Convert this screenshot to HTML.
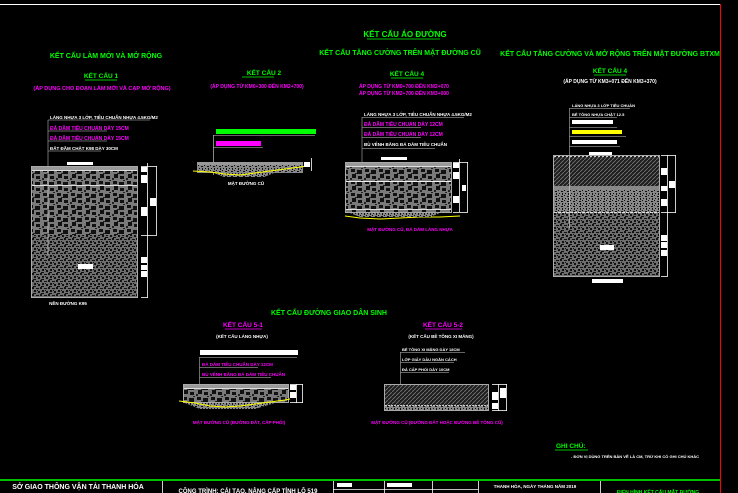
<!DOCTYPE html>
<html><head><meta charset="utf-8"><style>
html,body{margin:0;padding:0;background:#000;width:738px;height:493px;overflow:hidden}
svg{display:block}
text{font-family:"Liberation Sans","DejaVu Sans",sans-serif;font-weight:bold}
.g{fill:#00ff00}.m{fill:#ff00ff}.w{fill:#fff}
</style></head><body>
<svg width="738" height="493" viewBox="0 0 738 493" xmlns="http://www.w3.org/2000/svg">
<defs>
<pattern id="coarse" width="14" height="12" patternUnits="userSpaceOnUse">
<rect width="14" height="12" fill="#7a7a7a"/>
<path d="M1 1h4v3h-4zM7 2h5v4h-5zM2 6h4v4h-4zM8 8h4v3h-4z" fill="#111"/>
<path d="M5 5h2v1h-2zM11 0h2v1h-2zM0 10h2v2h-2z" fill="#222"/>
</pattern>
<pattern id="fine" width="8" height="7" patternUnits="userSpaceOnUse">
<rect width="8" height="7" fill="#6e6e6e"/>
<path d="M0 0h2v2h-2zM4 1h3v1h-3zM2 3h2v2h-2zM6 4h2v2h-2zM1 6h3v1h-3zM5 3h1v1h-1z" fill="#111"/>
</pattern>
<pattern id="speck" width="6" height="5" patternUnits="userSpaceOnUse">
<rect width="6" height="5" fill="#888"/>
<path d="M0 0h1v1h-1zM3 1h2v1h-2zM1 3h1v1h-1zM4 3h1v2h-1z" fill="#111"/>
</pattern>
<pattern id="hatch" width="4" height="4" patternUnits="userSpaceOnUse">
<rect width="4" height="4" fill="#1e1e1e"/>
<path d="M0 4L4 0" stroke="#777" stroke-width="0.8"/>
</pattern>
</defs>

<!-- frame -->
<line x1="0" y1="4.5" x2="720" y2="4.5" stroke="#fff" stroke-width="1"/>
<line x1="720.5" y1="4" x2="720.5" y2="493" stroke="#f00" stroke-width="1"/>

<!-- titles -->
<text x="405" y="37" class="g" font-size="8" text-anchor="middle">KẾT CẤU ÁO ĐƯỜNG</text>
<line x1="367" y1="39" x2="440" y2="39" stroke="#0f0" stroke-width="0.8"/>
<text x="106" y="58" class="g" font-size="7" text-anchor="middle">KẾT CẤU LÀM MỚI VÀ MỞ RỘNG</text>
<text x="400" y="55" class="g" font-size="7" text-anchor="middle">KẾT CẤU TĂNG CƯỜNG TRÊN MẶT ĐƯỜNG CŨ</text>
<text x="610" y="56" class="g" font-size="7" text-anchor="middle">KẾT CẤU TĂNG CƯỜNG VÀ MỞ RỘNG TRÊN MẶT ĐƯỜNG BTXM</text>

<text x="101" y="78" class="g" font-size="6.5" text-anchor="middle">KẾT CẤU 1</text>
<line x1="85" y1="80" x2="117" y2="80" stroke="#0f0" stroke-width="0.7"/>
<text x="102" y="90" class="m" font-size="5.5" text-anchor="middle">(ÁP DỤNG CHO ĐOẠN LÀM MỚI VÀ CẠP MỞ RỘNG)</text>

<text x="264" y="75" class="g" font-size="6.5" text-anchor="middle">KẾT CẤU 2</text>
<line x1="242" y1="77" x2="274" y2="77" stroke="#0f0" stroke-width="0.7"/>
<text x="257" y="88" class="m" font-size="5" text-anchor="middle">(ÁP DỤNG TỪ KM0+300 ĐẾN KM2+700)</text>

<text x="407" y="76" class="g" font-size="6.5" text-anchor="middle">KẾT CẤU 4</text>
<line x1="391" y1="78" x2="423" y2="78" stroke="#0f0" stroke-width="0.7"/>
<text x="404" y="88" class="m" font-size="5" text-anchor="middle">ÁP DỤNG TỪ KM0+700 ĐẾN KM2+070</text>
<text x="404" y="95" class="m" font-size="5" text-anchor="middle">ÁP DỤNG TỪ KM2+700 ĐẾN KM3+000</text>

<text x="610" y="73" class="g" font-size="6.5" text-anchor="middle">KẾT CẤU 4</text>
<line x1="594" y1="75" x2="626" y2="75" stroke="#0f0" stroke-width="0.7"/>
<text x="610" y="83" class="w" font-size="5" text-anchor="middle">(ÁP DỤNG TỪ KM3+071 ĐẾN KM3+370)</text>

<!-- STRUCTURE 1 -->
<g stroke="#888" stroke-width="0.8" fill="none">
<line x1="48" y1="120" x2="48" y2="255"/>
<line x1="48" y1="120" x2="150" y2="120"/>
<line x1="48" y1="131" x2="107" y2="131"/>
<line x1="48" y1="141" x2="107" y2="141"/>
<line x1="48" y1="151" x2="101" y2="151"/>
</g>
<text x="50" y="119" class="w" font-size="4.5">LÁNG NHỰA 3 LỚP, TIÊU CHUẨN NHỰA 4.5KG/M2</text>
<text x="50" y="130" class="m" font-size="5">ĐÁ DĂM TIÊU CHUẨN DÀY 15CM</text>
<text x="50" y="140" class="m" font-size="5">ĐÁ DĂM TIÊU CHUẨN DÀY 15CM</text>
<text x="50" y="150" class="w" font-size="4.5">ĐẤT ĐẦM CHẶT K98 DÀY 30CM</text>
<rect x="67" y="162" width="26" height="3" fill="#fff"/>
<rect x="31.5" y="166.5" width="106" height="131" fill="url(#fine)" stroke="#aaa"/>
<rect x="32" y="167" width="105" height="68" fill="url(#coarse)"/>
<rect x="32" y="167" width="105" height="3" fill="#999"/>
<line x1="32" y1="170.5" x2="137" y2="170.5" stroke="#ddd"/>
<line x1="32" y1="185.5" x2="137" y2="185.5" stroke="#ddd"/>
<line x1="48" y1="170" x2="48" y2="255" stroke="#bbb" stroke-width="0.8"/>
<rect x="78" y="264" width="15" height="5" fill="#fff"/>
<g stroke="#fff" stroke-width="0.8" fill="none">
<line x1="147.5" y1="163" x2="147.5" y2="298"/>
<line x1="141" y1="166.5" x2="157" y2="166.5"/>
<line x1="156.5" y1="166" x2="156.5" y2="235"/>
<line x1="141" y1="235.5" x2="157" y2="235.5"/>
<line x1="141" y1="297.5" x2="148" y2="297.5"/>
</g>
<rect x="141" y="167" width="6" height="5" fill="#fff"/>
<rect x="141" y="175" width="6" height="8" fill="#fff"/>
<rect x="150" y="198" width="6" height="8" fill="#fff"/>
<rect x="141" y="207" width="6" height="9" fill="#fff"/>
<rect x="141" y="257" width="6" height="6" fill="#fff"/>
<rect x="141" y="265" width="6" height="5" fill="#fff"/>
<rect x="141" y="271" width="6" height="6" fill="#fff"/>
<text x="68" y="305" class="w" font-size="4.5" text-anchor="middle">NỀN ĐƯỜNG K95</text>

<!-- STRUCTURE 2 -->
<rect x="216" y="129" width="100" height="5" fill="#00ff00"/>
<line x1="213" y1="135.5" x2="315" y2="135.5" stroke="#888" stroke-width="0.8"/>
<rect x="216" y="141" width="45" height="5" fill="#ff00ff"/>
<line x1="213" y1="147.5" x2="263" y2="147.5" stroke="#888" stroke-width="0.8"/>
<line x1="213.5" y1="135" x2="213.5" y2="175" stroke="#aaa" stroke-width="0.8"/>
<rect x="197" y="162" width="106" height="3" fill="#999"/>
<rect x="197" y="165" width="106" height="8" fill="url(#speck)"/>
<path d="M214 173h60l-10 4h-40z" fill="url(#speck)"/>
<path d="M193 171 L210 172 L225 174 L240 175 L255 173 L270 171 L285 169 L300 167 L308 166" stroke="#ff0" stroke-width="1" fill="none"/>
<rect x="304" y="162" width="6" height="5" fill="#fff"/>
<line x1="311.5" y1="158" x2="311.5" y2="171" stroke="#fff" stroke-width="0.8"/>
<text x="246" y="185" class="w" font-size="4.5" text-anchor="middle">MẶT ĐƯỜNG CŨ</text>

<!-- STRUCTURE 3 -->
<g stroke="#888" stroke-width="0.8" fill="none">
<line x1="362" y1="117" x2="362" y2="216"/>
<line x1="362" y1="117.5" x2="464" y2="117.5"/>
<line x1="362" y1="127.5" x2="421" y2="127.5"/>
<line x1="362" y1="137.5" x2="421" y2="137.5"/>
<line x1="362" y1="148.5" x2="435" y2="148.5"/>
</g>
<text x="364" y="116" class="w" font-size="4.5">LÁNG NHỰA 3 LỚP, TIÊU CHUẨN NHỰA 4.5KG/M2</text>
<text x="364" y="126" class="m" font-size="5">ĐÁ DĂM TIÊU CHUẨN DÀY 12CM</text>
<text x="364" y="136" class="m" font-size="5">ĐÁ DĂM TIÊU CHUẨN DÀY 12CM</text>
<text x="364" y="146" class="w" font-size="4.5">BÙ VÊNH BẰNG ĐÁ DĂM TIÊU CHUẨN</text>
<rect x="381" y="157" width="26" height="3" fill="#fff"/>
<rect x="345.5" y="162.5" width="106" height="50" fill="url(#coarse)" stroke="#aaa"/>
<rect x="346" y="163" width="105" height="3" fill="#999"/>
<line x1="346" y1="166.5" x2="451" y2="166.5" stroke="#ddd"/>
<line x1="346" y1="181.5" x2="451" y2="181.5" stroke="#eee"/>
<line x1="346" y1="209.5" x2="451" y2="209.5" stroke="#ddd"/>
<path d="M345 216 L360 218 L380 219 L400 218 L420 217 L440 217 L460 216" stroke="#ff0" stroke-width="1" fill="none"/>
<path d="M350 213h90l-10 4h-70z" fill="url(#speck)"/>
<g stroke="#fff" stroke-width="0.8" fill="none">
<line x1="459.5" y1="159" x2="459.5" y2="212"/>
<line x1="467.5" y1="162" x2="467.5" y2="212"/>
<line x1="453" y1="162.5" x2="468" y2="162.5"/>
<line x1="453" y1="212.5" x2="468" y2="212.5"/>
</g>
<rect x="453" y="163" width="6" height="5" fill="#fff"/>
<rect x="453" y="172" width="6" height="7" fill="#fff"/>
<rect x="453" y="196" width="6" height="7" fill="#fff"/>
<rect x="462" y="185" width="4" height="6" fill="#fff"/>
<text x="410" y="231" class="m" font-size="4.5" text-anchor="middle">MẶT ĐƯỜNG CŨ, ĐÁ DĂM LÁNG NHỰA</text>

<!-- STRUCTURE RIGHT -->
<g stroke="#888" stroke-width="0.8" fill="none">
<line x1="569.5" y1="108" x2="569.5" y2="228"/>
<line x1="569" y1="108.5" x2="630" y2="108.5"/>
<line x1="569" y1="117.5" x2="617" y2="117.5"/>
<line x1="569" y1="127.5" x2="617" y2="127.5"/>
<line x1="569" y1="136.5" x2="626" y2="136.5"/>
<line x1="569" y1="146.5" x2="620" y2="146.5"/>
</g>
<text x="572" y="107" class="w" font-size="4">LÁNG NHỰA 3 LỚP TIÊU CHUẨN</text>
<text x="572" y="116" class="w" font-size="4">BÊ TÔNG NHỰA CHẶT 12.5</text>
<rect x="572" y="120" width="41" height="4" fill="#fff"/>
<rect x="572" y="130" width="50" height="4" fill="#ff0"/>
<rect x="572" y="140" width="45" height="4" fill="#fff"/>
<rect x="589" y="152" width="23" height="3" fill="#fff"/>
<rect x="553.5" y="155.5" width="106" height="121" fill="url(#fine)" stroke="#aaa"/>
<rect x="554" y="156" width="105" height="30" fill="url(#hatch)"/>
<line x1="554" y1="156.5" x2="659" y2="156.5" stroke="#ccc" stroke-dasharray="2 2"/>
<rect x="554" y="186" width="105" height="4" fill="#888"/>
<rect x="554" y="190" width="105" height="22" fill="url(#speck)"/>
<line x1="554" y1="212.5" x2="659" y2="212.5" stroke="#ddd" stroke-dasharray="3 1"/>
<line x1="569.5" y1="156" x2="569.5" y2="228" stroke="#bbb" stroke-width="0.8"/>
<rect x="600" y="245" width="14" height="5" fill="#fff"/>
<rect x="592" y="279" width="31" height="4" fill="#fff"/>
<g stroke="#fff" stroke-width="0.8" fill="none">
<line x1="667.5" y1="155" x2="667.5" y2="276"/>
<line x1="661" y1="155.5" x2="676" y2="155.5"/>
<line x1="675.5" y1="155" x2="675.5" y2="213"/>
<line x1="661" y1="212.5" x2="676" y2="212.5"/>
<line x1="661" y1="276.5" x2="668" y2="276.5"/>
</g>
<rect x="661" y="168" width="6" height="7" fill="#fff"/>
<rect x="661" y="186" width="6" height="5" fill="#fff"/>
<rect x="661" y="199" width="6" height="7" fill="#fff"/>
<rect x="669" y="181" width="6" height="7" fill="#fff"/>
<rect x="661" y="235" width="6" height="6" fill="#fff"/>
<rect x="661" y="242" width="6" height="6" fill="#fff"/>
<rect x="661" y="250" width="6" height="6" fill="#fff"/>

<!-- BOTTOM SECTION -->
<text x="329" y="315" class="g" font-size="7" text-anchor="middle">KẾT CẤU ĐƯỜNG GIAO DÂN SINH</text>
<text x="243" y="327" class="m" font-size="6.5" text-anchor="middle">KẾT CẤU 5-1</text>
<line x1="225" y1="329" x2="262" y2="329" stroke="#f0f" stroke-width="0.7"/>
<text x="242" y="338" class="w" font-size="4.5" text-anchor="middle">(KẾT CẤU LÁNG NHỰA)</text>
<text x="443" y="327" class="m" font-size="6.5" text-anchor="middle">KẾT CẤU 5-2</text>
<line x1="425" y1="329" x2="462" y2="329" stroke="#f0f" stroke-width="0.7"/>
<text x="441" y="338" class="w" font-size="4.5" text-anchor="middle">(KẾT CẤU BÊ TÔNG XI MĂNG)</text>

<!-- 5-1 -->
<rect x="200" y="350" width="98" height="5" fill="#fff"/>
<g stroke="#888" stroke-width="0.8" fill="none">
<line x1="199.5" y1="357" x2="199.5" y2="400"/>
<line x1="199" y1="357.5" x2="297" y2="357.5"/>
<line x1="199" y1="367.5" x2="258" y2="367.5"/>
<line x1="199" y1="377.5" x2="271" y2="377.5"/>
</g>
<text x="202" y="366" class="m" font-size="4.5">ĐÁ DĂM TIÊU CHUẨN DÀY 12CM</text>
<text x="202" y="376" class="m" font-size="4.5">BÙ VÊNH BẰNG ĐÁ DĂM TIÊU CHUẨN</text>
<rect x="183.5" y="384.5" width="105" height="18" fill="url(#coarse)" stroke="#aaa"/>
<rect x="184" y="385" width="104" height="3" fill="#999"/>
<line x1="184" y1="388.5" x2="288" y2="388.5" stroke="#ddd"/>
<path d="M185 403h90l-20 6h-55z" fill="url(#speck)"/>
<path d="M179 401 L195 403 L210 406 L225 407 L240 406 L255 404 L270 402 L285 400 L290 399" stroke="#ff0" stroke-width="1" fill="none"/>
<g stroke="#fff" stroke-width="0.8" fill="none">
<line x1="296.5" y1="384" x2="296.5" y2="403"/>
<line x1="302.5" y1="384" x2="302.5" y2="403"/>
<line x1="290" y1="384.5" x2="303" y2="384.5"/>
<line x1="290" y1="402.5" x2="303" y2="402.5"/>
</g>
<rect x="290" y="385" width="6" height="5" fill="#fff"/>
<rect x="290" y="392" width="6" height="6" fill="#fff"/>
<text x="239" y="424" class="m" font-size="4.5" text-anchor="middle">MẶT ĐƯỜNG CŨ (ĐƯỜNG ĐẤT, CẤP PHỐI)</text>

<!-- 5-2 -->
<g stroke="#888" stroke-width="0.8" fill="none">
<line x1="400.5" y1="352" x2="400.5" y2="405"/>
<line x1="400" y1="352.5" x2="465" y2="352.5"/>
<line x1="400" y1="362.5" x2="454" y2="362.5"/>
<line x1="400" y1="372.5" x2="449" y2="372.5"/>
</g>
<text x="402" y="351" class="w" font-size="4">BÊ TÔNG XI MĂNG DÀY 18CM</text>
<text x="402" y="361" class="w" font-size="4">LỚP GIẤY DẦU NGĂN CÁCH</text>
<text x="402" y="371" class="w" font-size="4">ĐÁ CẤP PHỐI DÀY 10CM</text>
<rect x="384.5" y="384.5" width="104" height="26" fill="url(#hatch)" stroke="#aaa"/>
<rect x="385" y="406" width="103" height="4" fill="url(#speck)"/>
<line x1="385" y1="405.5" x2="488" y2="405.5" stroke="#ccc" stroke-dasharray="2 1"/>
<g stroke="#fff" stroke-width="0.8" fill="none">
<line x1="498.5" y1="384" x2="498.5" y2="411"/>
<line x1="506.5" y1="384" x2="506.5" y2="411"/>
<line x1="492" y1="384.5" x2="507" y2="384.5"/>
<line x1="492" y1="410.5" x2="507" y2="410.5"/>
</g>
<rect x="492" y="392" width="6" height="8" fill="#fff"/>
<rect x="492" y="403" width="6" height="6" fill="#fff"/>
<rect x="500" y="388" width="6" height="10" fill="#fff"/>
<text x="437" y="424" class="m" font-size="4.5" text-anchor="middle">MẶT ĐƯỜNG CŨ (ĐƯỜNG ĐẤT HOẶC ĐƯỜNG BÊ TÔNG CŨ)</text>

<!-- note -->
<text x="556" y="448" class="g" font-size="6.5">GHI CHÚ:</text>
<line x1="555" y1="450" x2="588" y2="450" stroke="#0f0" stroke-width="0.7"/>
<text x="571" y="458" class="w" font-size="4">- ĐƠN VỊ DÙNG TRÊN BẢN VẼ LÀ CM, TRỪ KHI CÓ GHI CHÚ KHÁC</text>

<!-- title block -->
<line x1="0" y1="480" x2="720" y2="480" stroke="#0f0" stroke-width="1.5"/>
<g stroke="#fff" stroke-width="0.8">
<line x1="162.5" y1="481" x2="162.5" y2="493"/>
<line x1="333.5" y1="481" x2="333.5" y2="493"/>
<line x1="384.5" y1="481" x2="384.5" y2="493"/>
<line x1="432.5" y1="481" x2="432.5" y2="493"/>
<line x1="478.5" y1="481" x2="478.5" y2="493"/>
<line x1="600.5" y1="481" x2="600.5" y2="493"/>
<line x1="333" y1="489.5" x2="478" y2="489.5"/>
</g>
<text x="78" y="489" class="w" font-size="7" font-weight="normal" text-anchor="middle">SỞ GIAO THÔNG VẬN TẢI THANH HÓA</text>
<text x="248" y="493" class="w" font-size="6" font-weight="normal" text-anchor="middle">CÔNG TRÌNH: CẢI TẠO, NÂNG CẤP TỈNH LỘ 519</text>
<rect x="337" y="483" width="15" height="4" fill="#fff"/>
<rect x="387" y="483" width="25" height="4" fill="#fff"/>
<text x="535" y="488" class="w" font-size="4.5" text-anchor="middle">THANH HÓA, NGÀY THÁNG NĂM 2019</text>
<text x="658" y="494" class="g" font-size="5" text-anchor="middle">ĐIỂN HÌNH KẾT CẤU MẶT ĐƯỜNG</text>
</svg>
</body></html>
